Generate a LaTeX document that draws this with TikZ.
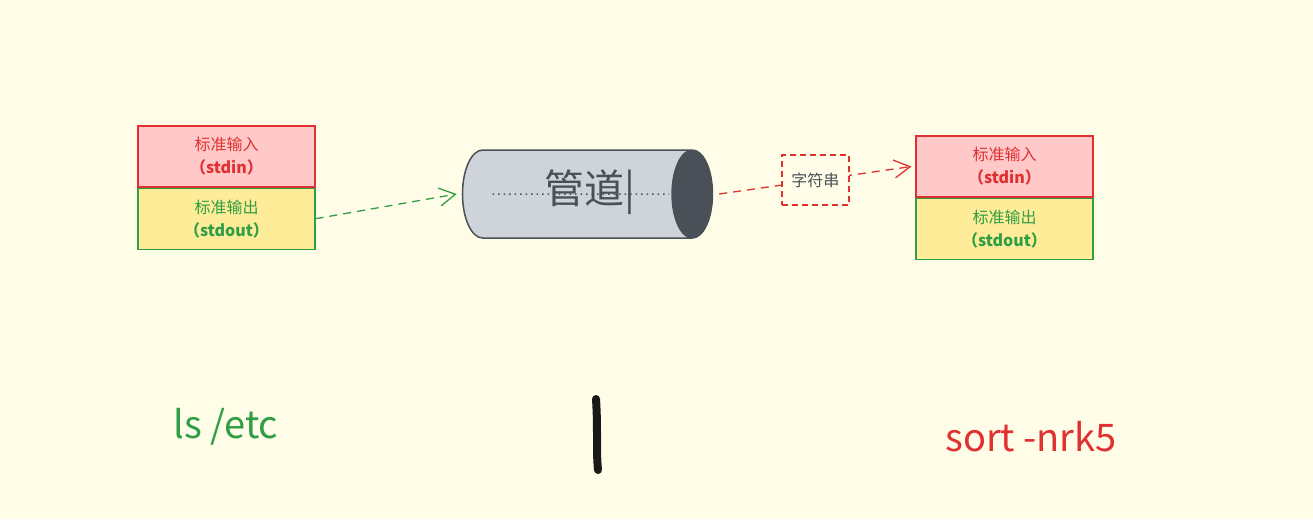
\documentclass[tikz,border=0pt]{standalone}
\usepackage{fontspec}
\setmainfont{Noto Sans CJK SC}
\usetikzlibrary{arrows.meta,positioning,shapes.geometric}

\definecolor{paper}{HTML}{FFFDE8}
\definecolor{redline}{HTML}{E03131}
\definecolor{redfill}{HTML}{FFC9C9}
\definecolor{greenline}{HTML}{2F9E44}
\definecolor{yellowfill}{HTML}{FFEC99}
\definecolor{pipebody}{HTML}{CED4DA}
\definecolor{pipedark}{HTML}{495057}

\tikzset{
  stdbox/.style={draw, line width=1.2pt, minimum width=177pt, minimum height=61pt,
    align=center, inner sep=0pt, font=\fontsize{16}{23}\selectfont},
  inbox/.style={stdbox, draw=redline, fill=redfill, text=redline},
  outbox/.style={stdbox, draw=greenline, fill=yellowfill, text=greenline},
  flow/.style={dash pattern=on 8pt off 6pt, line width=1.3pt,
    -{Straight Barb[length=16pt,width=18pt]}},
  strbox/.style={draw=redline, fill=paper, dash pattern=on 6pt off 4pt, line width=1.8pt,
    minimum width=67pt, minimum height=50pt, inner sep=0pt, text=pipedark,
    font=\fontsize{16}{16}\selectfont},
  cmd/.style={inner sep=0pt, font=\fontsize{38}{38}\selectfont},
  pipetxt/.style={text=pipedark, inner sep=0pt, font=\fontsize{40}{40}\selectfont},
}

\begin{document}
\begin{tikzpicture}[x=1pt,y=-1pt]
    \fill[paper] (0,0) rectangle (1313,519);
    \useasboundingbox (0,0) rectangle (1313,519);

    % ls /etc
    \node[inbox] (lsin) at (226.5,156.5) {标准输入\\\textbf{（stdin）}};
    \node[outbox, below=0pt of lsin] (lsout) {标准输出\\\textbf{（stdout）}};

    % pipe
    \node[cylinder, draw=pipedark, line width=1.5pt, shape aspect=0.9,
      cylinder uses custom fill, cylinder body fill=pipebody, cylinder end fill=pipedark,
      minimum width=88pt, minimum height=250pt, pipetxt] (pipe) at (577,194) {\phantom{管道|}};
    \draw[line width=1.5pt, dash pattern=on 1.5pt off 4pt, pipedark]
      ([xshift=31pt]pipe.west) -- ([xshift=-44pt]pipe.east);
    \node[pipetxt] (pipename) at (590,192) {管道|};

    % sort -nrk5
    \node[inbox] (sortin) at (1004.5,166.5) {标准输入\\\textbf{（stdin）}};
    \node[outbox, below=0pt of sortin] (sortout) {标准输出\\\textbf{（stdout）}};

    \draw[flow, greenline] (lsout.east) -- ([xshift=-5pt]pipe.west);
    \draw[flow, redline] ([xshift=6pt]pipe.east) -- node[strbox] (str) {字符串} ([xshift=-4pt]sortin.west);

    \node[cmd, text=greenline] (ls) at (226,427) {ls /etc};
    \node[cmd, text=redline] (sort) at (1031,437) {sort -nrk5};
    \draw[line width=8pt, line cap=round, black!90] (596,399) .. controls (598,430) and (596,450) .. (598,470);

\end{tikzpicture}
\end{document}
